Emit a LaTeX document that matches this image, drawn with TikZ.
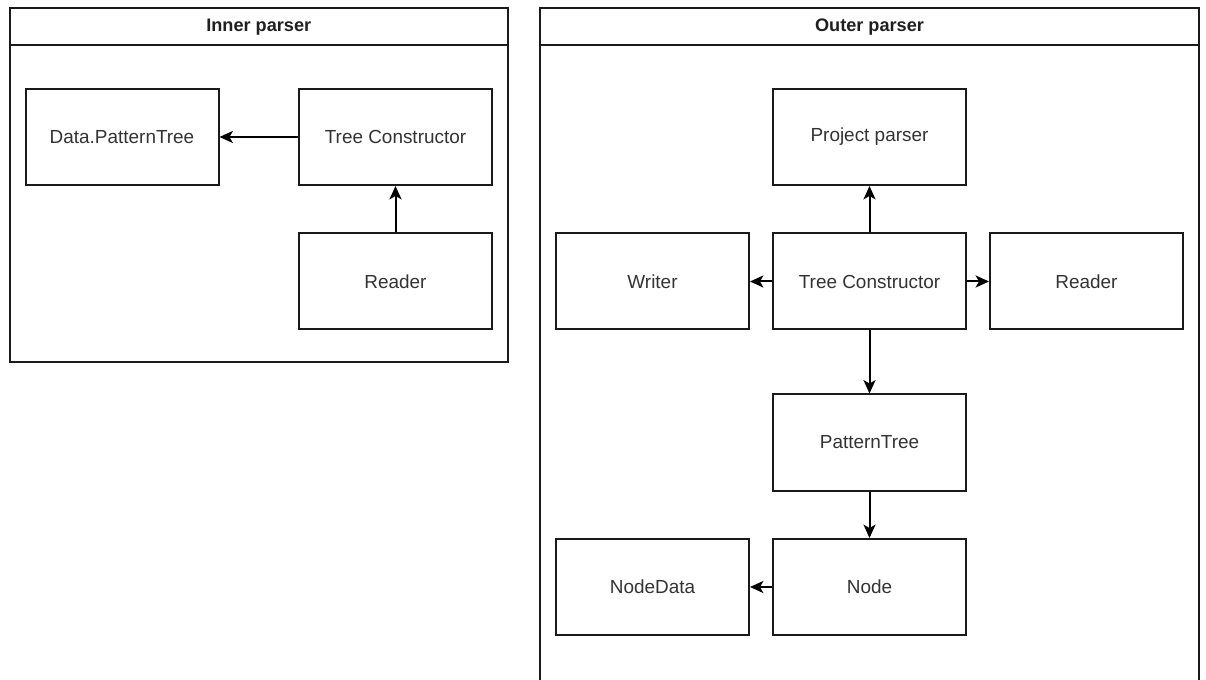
\documentclass[tikz,border=0pt]{standalone}
\usepackage{fontspec}
\setmainfont{Liberation Sans}
\usetikzlibrary{arrows.meta}
\definecolor{labelgray}{HTML}{333333}
\definecolor{edge}{HTML}{1A1A1A}
\tikzset{
  block/.style={draw=edge, line width=1.5pt, fill=white, minimum width=144.75pt,
    minimum height=72pt, inner sep=0pt, text=labelgray,
    font=\fontsize{14.2}{17}\selectfont},
  lane/.style={draw=edge, line width=1.5pt},
  title/.style={text=black!88, inner sep=0pt, font=\bfseries\fontsize{13.6}{16}\selectfont},
  link/.style={draw=black, line width=1.5pt, -{Stealth[length=10pt, width=9pt, inset=2.5pt]}}
}
\begin{document}
\begin{tikzpicture}[x=0.75pt, y=-0.75pt]
  \useasboundingbox (0,0) rectangle (1206,680);
  \clip (0,0) rectangle (1206,680);

  % Inner parser lane
  \draw[lane] (9.5,8.5) rectangle (508,362);
  \draw[lane] (9.5,45) -- (508,45);
  \node[title] (innertitle) at (258.75,27) {Inner parser};

  % Outer parser lane (runs past the lower edge)
  \draw[lane] (540,8.5) rectangle (1199,700);
  \draw[lane] (540,45) -- (1199,45);
  \node[title] (outertitle) at (869.5,27) {Outer parser};

  % Inner parser blocks
  \node[block] (ipt)  at (122,137)    {Data.PatternTree};
  \node[block] (itc)  at (395.5,137)  {Tree Constructor};
  \node[block] (ird)  at (395.5,281.5) {Reader};

  % Outer parser blocks
  \node[block] (opp)  at (869.5,137)   {Project parser};
  \node[block] (owr)  at (652.5,281.5) {Writer};
  \node[block] (otc)  at (869.5,281.5) {Tree Constructor};
  \node[block] (ord)  at (1086.5,281.5) {Reader};
  \node[block] (opt)  at (869.5,442.5) {PatternTree};
  \node[block] (ond)  at (652.5,587)   {NodeData};
  \node[block] (ono)  at (869.5,587)   {Node};

  % Inner connectors
  \draw[link] (itc) -- (ipt);
  \draw[link] (ird) -- (itc);

  % Outer connectors
  \draw[link] (otc) -- (opp);
  \draw[link] (otc) -- (owr);
  \draw[link] (otc) -- (ord);
  \draw[link] (otc) -- (opt);
  \draw[link] (opt) -- (ono);
  \draw[link] (ono) -- (ond);
\end{tikzpicture}
\end{document}
